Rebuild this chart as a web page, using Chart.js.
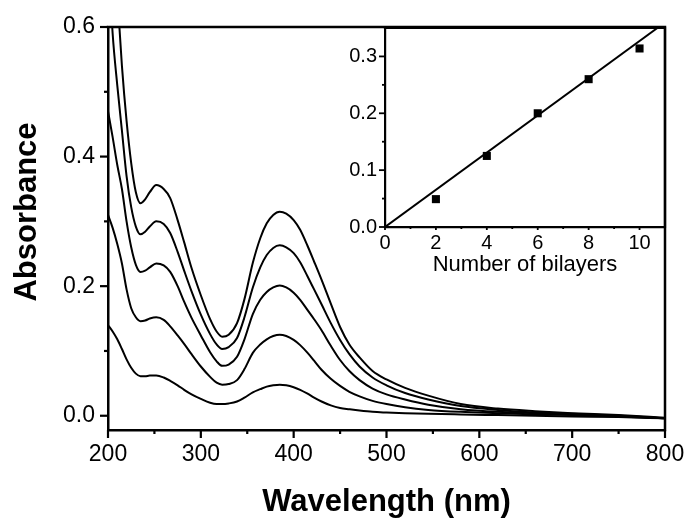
<!DOCTYPE html>
<html><head><meta charset="utf-8">
<script src="https://cdn.jsdelivr.net/npm/chart.js@4"></script>
<style>
html,body{margin:0;padding:0;background:#fff;}
#wrap{position:relative;width:688px;height:519px;background:#fff;}
#main{position:absolute;left:0;top:0;}
#inset{position:absolute;left:320px;top:0;}
</style></head><body>
<div id="wrap"><canvas id="main" width="688" height="519"></canvas><canvas id="inset" width="368" height="300"></canvas></div>
<script>
// ---------- data ----------
const wavelength = [200,205,210,215,220,225,230,235,240,245,252,260,267,275,282,290,300,310,317,323,330,339,347,356,364,371,378,385,392,400,407,415,422,430,440,450,460,471,485,500,520,545,580,620,660,700,750,800];
const abs10 = [0.95,0.78,0.65,0.54,0.455,0.39,0.345,0.328,0.334,0.345,0.356,0.35,0.336,0.302,0.268,0.228,0.186,0.149,0.13,0.122,0.125,0.143,0.18,0.236,0.274,0.297,0.31,0.315,0.312,0.302,0.287,0.262,0.238,0.21,0.173,0.137,0.11,0.09,0.069,0.056,0.043,0.031,0.018,0.011,0.007,0.004,0.001,-0.003];
const abs8 = [0.72,0.59,0.51,0.44,0.37,0.322,0.292,0.28,0.284,0.292,0.3,0.296,0.282,0.253,0.224,0.192,0.156,0.126,0.11,0.103,0.106,0.12,0.152,0.198,0.229,0.248,0.259,0.263,0.26,0.251,0.237,0.215,0.195,0.172,0.143,0.117,0.095,0.076,0.059,0.047,0.035,0.025,0.015,0.009,0.005,0.003,0.0,-0.004];
const abs6 = [0.47,0.43,0.387,0.35,0.3,0.26,0.233,0.222,0.224,0.229,0.235,0.232,0.222,0.2,0.176,0.151,0.124,0.098,0.084,0.077,0.079,0.091,0.118,0.157,0.179,0.191,0.198,0.201,0.198,0.19,0.179,0.163,0.149,0.132,0.108,0.086,0.069,0.055,0.042,0.033,0.025,0.017,0.01,0.006,0.004,0.002,0.0,-0.004];
const abs4 = [0.31,0.29,0.265,0.235,0.195,0.166,0.152,0.146,0.147,0.15,0.152,0.148,0.138,0.124,0.111,0.095,0.076,0.06,0.051,0.048,0.049,0.055,0.072,0.097,0.11,0.118,0.123,0.125,0.123,0.117,0.109,0.097,0.085,0.071,0.057,0.046,0.037,0.03,0.023,0.018,0.013,0.009,0.006,0.004,0.002,0.001,-0.001,-0.004];
const abs2 = [0.14,0.13,0.118,0.103,0.087,0.074,0.065,0.061,0.061,0.062,0.062,0.059,0.054,0.047,0.04,0.033,0.026,0.02,0.018,0.018,0.019,0.022,0.028,0.036,0.041,0.045,0.047,0.048,0.047,0.044,0.04,0.034,0.028,0.022,0.016,0.012,0.01,0.008,0.006,0.005,0.004,0.003,0.002,0.001,0.0,-0.001,-0.002,-0.004];

const xTicks = [200,300,400,500,600,700,800];
const xMinor = [250,350,450,550,650,750];
const yTicks = [0,0.2,0.4,0.6];
const yMinor = [0.1,0.3,0.5];

// inset
const bilayers = [2,4,6,8,10];
const peakAbs = [0.049,0.125,0.2,0.26,0.314];
const fitX = [0,10.7];
const fitY = [0,0.35];
const insetXTicks = [0,2,4,6,8,10];
const insetXMinor = [1,3,5,7,9];
const insetYTicks = [0,0.1,0.2,0.3];
const insetYMinor = [0.05,0.15,0.25];

// ---------- helpers ----------
const FONT = "'Liberation Sans', Arial, Helvetica, sans-serif";
const pts = (xs, ys) => xs.map((x, i) => ({x, y: ys[i]}));

const framePlugin = {
  id: 'frameTicks',
  afterDraw(chart, args, o) {
    const {ctx, chartArea: a} = chart;
    const xs = chart.scales.x, ys = chart.scales.y;
    ctx.save();
    ctx.strokeStyle = '#000';
    ctx.lineWidth = o.frameWidth;
    ctx.lineCap = 'square';
    ctx.beginPath();
    ctx.moveTo(a.left, a.top); ctx.lineTo(a.right, a.top); ctx.lineTo(a.right, a.bottom);
    ctx.stroke();
    ctx.lineWidth = o.tickWidth;
    ctx.lineCap = 'butt';
    const seg = (x1, y1, x2, y2) => { ctx.beginPath(); ctx.moveTo(x1, y1); ctx.lineTo(x2, y2); ctx.stroke(); };
    o.xMajor.forEach(v => { const p = xs.getPixelForValue(v); seg(p, a.bottom, p, a.bottom + o.xMajorLen); });
    o.xMinor.forEach(v => { const p = xs.getPixelForValue(v); seg(p, a.bottom, p, a.bottom + o.xMinorLen); });
    o.yMajor.forEach(v => { const p = ys.getPixelForValue(v); seg(a.left, p, a.left - o.yMajorLen, p); });
    o.yMinor.forEach(v => { const p = ys.getPixelForValue(v); seg(a.left, p, a.left - o.yMinorLen, p); });
    if (o.yTitle) {
      ctx.fillStyle = '#000';
      ctx.font = o.yTitle.font;
      ctx.textAlign = 'center';
      ctx.textBaseline = 'middle';
      ctx.translate(o.yTitle.x, o.yTitle.y);
      ctx.rotate(-Math.PI / 2);
      ctx.fillText(o.yTitle.text, 0, 0);
    }
    ctx.restore();
  }
};

const curve = (label, ys) => ({
  label, data: pts(wavelength, ys), borderColor: '#000', borderWidth: 2,
  pointRadius: 0, cubicInterpolationMode: 'monotone', fill: false
});

// ---------- main chart ----------
new Chart(document.getElementById('main'), {
  type: 'line',
  data: { datasets: [curve('10', abs10), curve('8', abs8), curve('6', abs6), curve('4', abs4), curve('2', abs2)] },
  options: {
    responsive: false, animation: false,
    layout: { padding: { left: 0, right: 23, top: 27, bottom: 0 } },
    plugins: {
      legend: { display: false }, tooltip: { enabled: false },
      frameTicks: {
        frameWidth: 2.5, tickWidth: 2.2,
        xMajor: xTicks, xMinor: xMinor, yMajor: yTicks, yMinor: yMinor,
        xMajorLen: 8, xMinorLen: 4, yMajorLen: 8, yMinorLen: 4,
        yTitle: { text: 'Absorbance', font: "bold 31px " + FONT, x: 27, y: 212 }
      }
    },
    scales: {
      x: {
        type: 'linear', min: 200, max: 800,
        afterFit(s) { s.height = 89; },
        afterBuildTicks(s) { s.ticks = xTicks.map(v => ({value: v})); },
        ticks: { padding: 3, color: '#000', maxRotation: 0, autoSkip: false, font: { family: FONT, size: 23 }, callback: v => String(v) },
        grid: { display: false, drawTicks: true, tickLength: 8 },
        border: { display: true, color: '#000', width: 2.5 },
        title: { display: true, text: 'Wavelength (nm)', color: '#000', font: { family: FONT, size: 31, weight: 'bold', lineHeight: 1 }, padding: { top: 0, bottom: 1 } }
      },
      y: {
        type: 'linear', min: -0.022, max: 0.6,
        afterFit(s) { s.width = 108; },
        afterBuildTicks(s) { s.ticks = yTicks.map(v => ({value: v})); },
        ticks: { padding: 5, color: '#000', autoSkip: false, font: { family: FONT, size: 23 }, callback: v => Number(v).toFixed(1) },
        grid: { display: false, drawTicks: true, tickLength: 8 },
        border: { display: true, color: '#000', width: 2.5 }
      }
    }
  },
  plugins: [framePlugin]
});

// ---------- inset chart ----------
new Chart(document.getElementById('inset'), {
  type: 'line',
  data: {
    datasets: [
      { label: 'fit', data: pts(fitX, fitY), borderColor: '#000', borderWidth: 2, pointRadius: 0, tension: 0 },
      { label: 'A385', data: pts(bilayers, peakAbs), showLine: false, pointStyle: 'rect', pointRadius: 5.7,
        pointBackgroundColor: '#000', pointBorderColor: '#000', pointBorderWidth: 0 }
    ]
  },
  options: {
    responsive: false, animation: false,
    layout: { padding: { left: 0, right: 23, top: 28, bottom: 0 } },
    plugins: {
      legend: { display: false }, tooltip: { enabled: false },
      frameTicks: {
        frameWidth: 2.2, tickWidth: 1.8,
        xMajor: insetXTicks, xMinor: insetXMinor, yMajor: insetYTicks, yMinor: insetYMinor,
        xMajorLen: 3, xMinorLen: 2, yMajorLen: 6, yMinorLen: 3
      }
    },
    scales: {
      x: {
        type: 'linear', min: 0, max: 11,
        afterFit(s) { s.height = 73; },
        afterBuildTicks(s) { s.ticks = insetXTicks.map(v => ({value: v})); },
        ticks: { padding: 4, color: '#000', maxRotation: 0, autoSkip: false, font: { family: FONT, size: 20 }, callback: v => String(v) },
        grid: { display: false, drawTicks: false },
        border: { display: true, color: '#000', width: 2.2 },
        title: { display: true, text: 'Number of bilayers', color: '#000', font: { family: FONT, size: 22, lineHeight: 1 }, padding: { top: 0, bottom: 24 } }
      },
      y: {
        type: 'linear', min: 0, max: 0.35,
        afterFit(s) { s.width = 65; },
        afterBuildTicks(s) { s.ticks = insetYTicks.map(v => ({value: v})); },
        ticks: { padding: 3, color: '#000', autoSkip: false, font: { family: FONT, size: 20 }, callback: v => Number(v).toFixed(1) },
        grid: { display: false, drawTicks: true, tickLength: 5 },
        border: { display: true, color: '#000', width: 2.2 }
      }
    }
  },
  plugins: [framePlugin]
});
</script>
</body></html>
